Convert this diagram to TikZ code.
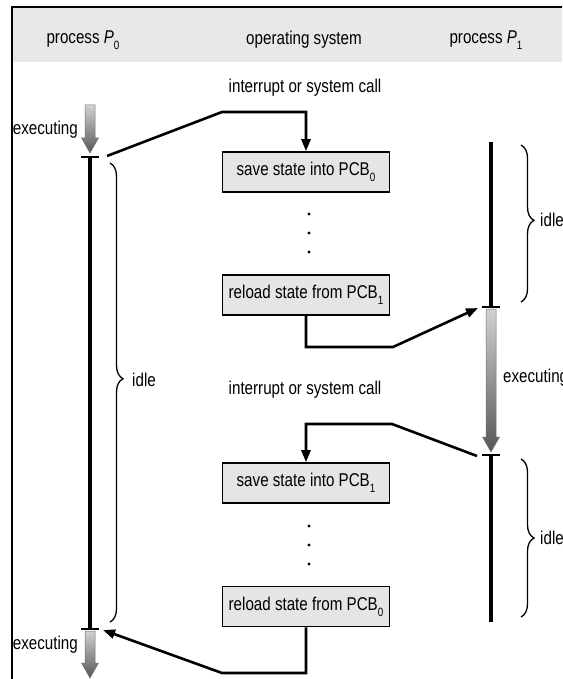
\documentclass[tikz,border=0pt]{standalone}
\usepackage{fontspec}
\setmainfont{Liberation Sans}[FakeStretch=0.82]
\usetikzlibrary{arrows.meta,decorations.pathreplacing}

% lowered subscript as used in the labels
\newcommand{\lowsub}[1]{\raisebox{-0.6ex}{\fontsize{12}{12}\selectfont #1}}
% shaded "executing" arrow: x, start y, tip y
\newcommand{\execarrow}[3]{%
  \shade[top color=black!18, bottom color=black!66, draw=black!55, line width=0.5pt]
    (#1-5,#2) -- (#1+5,#2) -- (#1+5,#3-15) -- (#1+8.5,#3-15) -- (#1,#3)
    -- (#1-8.5,#3-15) -- (#1-5,#3-15) -- cycle;}

\tikzset{
  conn/.style={line width=2.6pt, line join=miter, -{Triangle[length=12pt,width=9pt]}},
  stepbox/.style={draw, line width=1.6pt, fill=black!10, minimum width=167pt,
    minimum height=40pt, inner sep=0pt},
  timeline/.style={line width=4pt},
  tickmark/.style={line width=2pt},
  idlebrace/.style={decorate, decoration={brace, amplitude=13pt, aspect=#1}, line width=1.3pt},
  lbl/.style={inner sep=0pt},
}

\begin{document}
\begin{tikzpicture}[x=1pt, y=-1pt, font=\fontsize{18.5}{20}\selectfont]
\useasboundingbox (0,0) rectangle (562,679);
\clip (0,0) rectangle (562,679);

% header band and frame
\fill[black!9] (12,7) rectangle (600,62);
\draw[line width=2.6pt] (12,7) rectangle (620,720);

% column headings
\node[lbl] (hp0) at (83,40) {process \textit{P}\lowsub{0}};
\node[lbl] (hos) at (304,40) {operating system};
\node[lbl] (hp1) at (486,40) {process \textit{P}\lowsub{1}};

% operating-system steps
\node[lbl] (int1) at (305,88) {interrupt or system call};
\node[stepbox] (box1) at (306,172) {save state into PCB\lowsub{0}};
\node[stepbox] (box2) at (306,295) {reload state from PCB\lowsub{1}};
\node[lbl] (int2) at (305,390) {interrupt or system call};
\node[stepbox] (box3) at (306,483) {save state into PCB\lowsub{1}};
\node[stepbox] (box4) at (306,606.5) {reload state from PCB\lowsub{0}};

% ellipsis dots between the steps
\foreach \y in {214,233,252,526,545,564}
  \fill (309,\y) circle (1.6);

% process P0 timeline
\execarrow{90}{105}{153}
\draw[timeline] (90,157) -- (90,629);
\draw[tickmark] (81,157) -- (99,157);
\draw[tickmark] (81,629) -- (99,629);
\execarrow{90}{631}{678}
\node[lbl, anchor=east] (ex0a) at (78,130) {executing};
\node[lbl, anchor=east] (ex0b) at (78,645) {executing};
\draw[idlebrace=0.47] (110,163) -- (110,622);
\node[lbl, anchor=west] (idle0) at (132,380) {idle};

% process P1 timeline
\draw[timeline] (491,142) -- (491,307);
\draw[tickmark] (482,307) -- (500,307);
\execarrow{491}{309}{452}
\draw[tickmark] (482,455) -- (500,455);
\draw[timeline] (491,455) -- (491,622);
\node[lbl, anchor=west] (ex1) at (503,378) {executing};
\draw[idlebrace=0.48] (521,145) -- (521,302);
\node[lbl, anchor=west] (idle1a) at (540,220) {idle};
\draw[idlebrace=0.5] (521,459) -- (521,617);
\node[lbl, anchor=west] (idle1b) at (540,538) {idle};

% connector end points on the timelines
\coordinate (outA) at (107,156);
\coordinate (inB) at (478,308);
\coordinate (outC) at (477,456);
\coordinate (inD) at (103,630);

% control transfers
\draw[conn] (outA) -- (222,112) -| (box1.north);
\draw[conn] (box2.south) |- (393,347) -- (inB);
\draw[conn] (outC) -- (392,424) -| (box3.north);
\draw[conn] (box4.south) |- (222,673) -- (inD);
\end{tikzpicture}
\end{document}
